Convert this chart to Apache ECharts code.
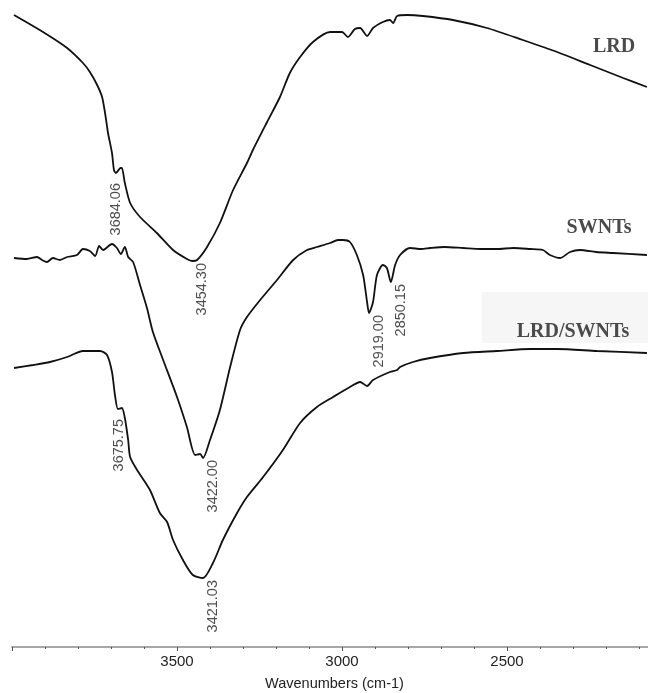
<!DOCTYPE html>
<html lang="en">
<head>
    <meta charset="UTF-8">
    <title>FTIR</title>
    <script type="text/javascript" src="https://cdn.jsdelivr.net/npm/echarts@6/dist/echarts.min.js"></script>
    <style>
        html, body { margin: 0; padding: 0; background: #fff; overflow: hidden; }
    </style>
</head>
<body>
<!-- the plot runs on past the right edge of the picture (cropped at ~2075 cm-1), so the div is wider than the window -->
<div id="main" style="width: 672px; height:693px;"></div>

<script>
    // wavenumber (cm-1) / signal (arbitrary units)
    var lrdWn = [3994, 3906, 3833, 3785, 3764, 3742, 3727, 3718, 3709, 3697, 3691, 3685, 3671, 3667, 3658, 3642,
        3612, 3561, 3512, 3470, 3454, 3439, 3409, 3370, 3330, 3288, 3270, 3227, 3188, 3158, 3127, 3088, 3036,
        3000, 2982, 2961, 2945, 2924, 2906, 2876, 2855, 2845, 2833, 2803, 2755, 2664, 2561, 2452, 2348, 2248,
        2148, 2076];
    var lrdVal = [632, 615, 599, 584, 575, 562, 550, 534, 514, 494, 477, 474, 479, 479, 464, 444,
        430, 414, 397, 388, 386, 387, 400, 424, 457, 484, 497, 525, 550, 574, 590, 605, 615,
        615, 610, 618, 619, 611, 619, 625, 627, 624, 631, 632, 631, 627, 619, 607, 595, 582,
        569, 560];

    var swntWn = [3994, 3955, 3924, 3909, 3894, 3876, 3855, 3833, 3803, 3785, 3764, 3748, 3736, 3724, 3697, 3682,
        3670, 3658, 3648, 3633, 3612, 3591, 3573, 3542, 3500, 3470, 3445, 3430, 3421, 3400, 3370, 3339, 3309,
        3288, 3248, 3197, 3148, 3106, 3076, 3036, 3012, 2997, 2976, 2955, 2936, 2924, 2918, 2906, 2894, 2876,
        2864, 2852, 2839, 2824, 2794, 2760, 2733, 2690, 2633, 2580, 2530, 2480, 2430, 2391, 2370, 2339, 2309,
        2279, 2230, 2179, 2076];
    var swntVal = [389, 388, 390, 387, 385, 389, 387, 390, 392, 398, 396, 391, 401, 397, 403, 399,
        393, 400, 390, 385, 362, 339, 315, 287, 250, 220, 192, 193, 189, 207, 237, 280, 317,
        330, 347, 367, 387, 397, 400, 404, 407, 407, 405, 392, 372, 345, 334, 345, 372, 382,
        379, 365, 382, 392, 399, 398, 399, 400, 399, 398, 398, 399, 398, 397, 392, 389, 395,
        397, 395, 394, 392];

    var mixWn = [3994, 3936, 3885, 3833, 3785, 3733, 3712, 3697, 3688, 3679, 3667, 3658, 3648, 3642, 3621, 3582,
        3552, 3530, 3512, 3482, 3452, 3421, 3391, 3361, 3318, 3288, 3239, 3179, 3127, 3076, 3027, 2976, 2945,
        2924, 2906, 2855, 2833, 2824, 2785, 2733, 2633, 2530, 2430, 2348, 2227, 2076];
    var mixVal = [279, 282, 285, 290, 296, 296, 292, 275, 252, 238, 239, 229, 207, 190, 177, 157,
        134, 125, 107, 87, 72, 69, 84, 107, 134, 150, 170, 197, 224, 240, 250, 260, 265,
        261, 267, 275, 277, 280, 285, 289, 294, 296, 298, 298, 296, 294];

    // marked peaks: wavenumber, signal at the peak, printed text
    var peakWn = [3684.06, 3454.30, 3422.00, 3675.75, 3421.03, 2919.00, 2850.15];
    var peakVal = [474, 386, 189, 238, 69, 334, 365];
    var peakText = ['3684.06', '3454.30', '3422.00', '3675.75', '3421.03', '2919.00', '2850.15'];
    // shoulder peaks carry the label below them instead of beside
    var shoulderPeaks = ['3684.06', '3675.75'];

    var seriesNames = ['LRD', 'SWNTs', 'LRD/SWNTs'];

    function pairs(xs, ys) {
        var out = [];
        for (var i = 0; i < xs.length; i++) {
            out.push([xs[i], ys[i]]);
        }
        return out;
    }

    function lineSeries(name, xs, ys) {
        return {
            name: name,
            type: 'line',
            data: pairs(xs, ys),
            showSymbol: false,
            smooth: 0.25,
            lineStyle: {color: '#111', width: 1.8},
            silent: true
        };
    }

    var peakData = [];
    for (var i = 0; i < peakWn.length; i++) {
        var isShoulder = shoulderPeaks.indexOf(peakText[i]) >= 0;
        peakData.push({
            value: [peakWn[i], peakVal[i]],
            name: peakText[i],
            label: {position: isShoulder ? [0, 10] : [10, 2]}
        });
    }

    var myChart = echarts.init(document.getElementById('main'));

    var option = {
        animation: false,
        backgroundColor: '#fff',
        // keep the grid where it is put, do not shrink it to fit the axis name
        grid: {left: 12, right: 0, top: 0, bottom: 46, outerBoundsMode: 'none'},
        xAxis: {
            type: 'value',
            inverse: true,
            min: 2000,
            max: 4000,
            interval: 500,
            name: 'Wavenumbers (cm-1)',
            nameLocation: 'middle',
            nameGap: 29,
            // centred on the visible part of the axis
            nameTextStyle: {fontFamily: 'Liberation Sans', fontSize: 14.5, color: '#222', padding: [0, 15, 0, 0]},
            axisLine: {lineStyle: {color: '#a8a8a8', width: 2}},
            axisTick: {show: true, length: 4, lineStyle: {color: '#555'}},
            minorTick: {show: true, splitNumber: 5, length: 2, lineStyle: {color: '#555'}},
            axisLabel: {
                fontFamily: 'Liberation Sans', fontSize: 15, color: '#222', margin: 7,
                showMinLabel: false, showMaxLabel: false,
                formatter: function (v) { return String(v); }
            },
            splitLine: {show: false}
        },
        yAxis: {
            type: 'value',
            min: 0,
            max: 647,
            show: false
        },
        graphic: [
            {type: 'rect', shape: {x: 482, y: 292, width: 166, height: 51}, style: {fill: '#f6f6f6'}, z: -1},
            {type: 'text', x: 614, y: 47, style: {text: seriesNames[0], font: 'bold 20px "Liberation Serif"', fill: '#4a4a4a', textAlign: 'center', textVerticalAlign: 'middle'}},
            {type: 'text', x: 599, y: 228, style: {text: seriesNames[1], font: 'bold 20px "Liberation Serif"', fill: '#4a4a4a', textAlign: 'center', textVerticalAlign: 'middle'}},
            {type: 'text', x: 573, y: 332, style: {text: seriesNames[2], font: 'bold 20px "Liberation Serif"', fill: '#4a4a4a', textAlign: 'center', textVerticalAlign: 'middle'}}
        ],
        series: [
            lineSeries(seriesNames[0], lrdWn, lrdVal),
            lineSeries(seriesNames[1], swntWn, swntVal),
            lineSeries(seriesNames[2], mixWn, mixVal),
            {
                type: 'scatter',
                data: peakData,
                symbolSize: 0,
                silent: true,
                label: {
                    show: true,
                    rotate: 90,
                    align: 'right',
                    verticalAlign: 'middle',
                    formatter: '{b}',
                    fontFamily: 'Liberation Sans',
                    fontSize: 14.5,
                    color: '#222'
                }
            }
        ]
    };

    myChart.setOption(option);
</script>
</body>
</html>
